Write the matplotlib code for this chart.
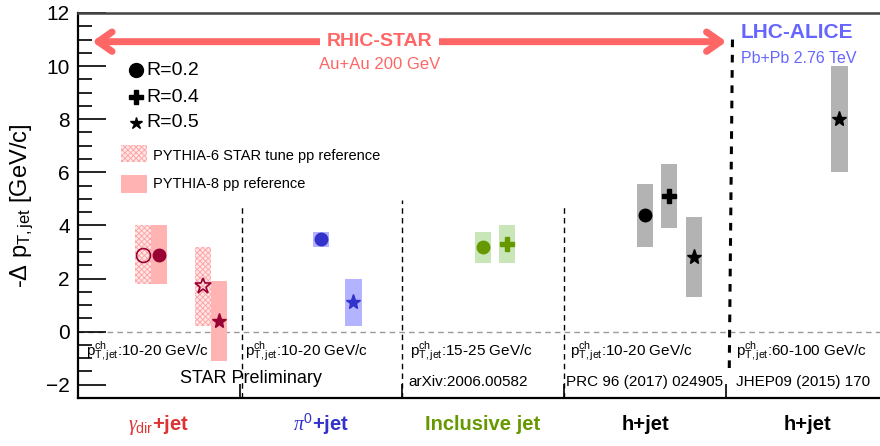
import numpy as np
import matplotlib
matplotlib.use("Agg")
import matplotlib.pyplot as plt
from matplotlib.patches import Rectangle, FancyArrowPatch

plt.rcParams['font.family'] = ['Liberation Sans', 'DejaVu Sans']
plt.rcParams['mathtext.fontset'] = 'custom'
plt.rcParams['mathtext.rm'] = 'Liberation Sans'
plt.rcParams['mathtext.it'] = 'Liberation Serif:italic'
plt.rcParams['mathtext.bf'] = 'Liberation Sans:bold'
plt.rcParams['hatch.linewidth'] = 0.6

# gamma_dir + jet (STAR preliminary), PYTHIA-6 reference (open) and PYTHIA-8 (filled)
g6_x = [0.40, 0.77]
g6_y = [2.9, 1.7]
g6_lo = [1.8, 0.2]
g6_hi = [4.0, 3.2]
g8_x = [0.50, 0.87]
g8_y = [2.9, 0.4]
g8_lo = [1.8, -1.1]
g8_hi = [4.0, 1.9]
g_markers = ['o', '*']

# pi0 + jet
pi_x = [1.50, 1.70]
pi_y = [3.5, 1.1]
pi_lo = [3.2, 0.2]
pi_hi = [3.75, 2.0]
pi_markers = ['o', '*']

# inclusive jet
inc_x = [2.50, 2.65]
inc_y = [3.2, 3.3]
inc_lo = [2.6, 2.6]
inc_hi = [3.75, 4.0]
inc_markers = ['o', 'P']

# h + jet STAR
h_x = [3.50, 3.65, 3.80]
h_y = [4.4, 5.1, 2.8]
h_lo = [3.2, 3.9, 1.3]
h_hi = [5.55, 6.3, 4.3]
h_markers = ['o', 'P', '*']

# h + jet ALICE
a_x = [4.70]
a_y = [8.0]
a_lo = [6.0]
a_hi = [10.0]
a_markers = ['*']

box_w = 0.10

fig = plt.figure(figsize=(8.8, 4.46), dpi=100)
ax = fig.add_axes([78/880, 1-398/446, 810/880, 385/446])
ax.set_xlim(0, 5)
ax.set_ylim(-2.5, 12)


def draw(xs, ys, lo, hi, mk, box_col, mk_col, hatch=None, open_mk=False):
    for x, y, l, h, m in zip(xs, ys, lo, hi, mk):
        if hatch:
            r = Rectangle((x - box_w/2, l), box_w, h - l, facecolor='#ffe6e6',
                          edgecolor='#ff9f9f', hatch=hatch, lw=0, zorder=2)
        else:
            r = Rectangle((x - box_w/2, l), box_w, h - l, facecolor=box_col,
                          edgecolor='none', zorder=2)
        ax.add_patch(r)
        ms = 9 if m == 'o' else (11 if m == '*' else 10)
        if open_mk:
            ax.plot(x, y, marker=m, ms=ms + 1, mfc='none', mec=mk_col, mew=1.2, zorder=3)
        else:
            ax.plot(x, y, marker=m, ms=ms, color=mk_col, mec=mk_col, zorder=3)


draw(g6_x, g6_y, g6_lo, g6_hi, g_markers, None, '#990033', hatch='xxxxxx', open_mk=True)
draw(g8_x, g8_y, g8_lo, g8_hi, g_markers, '#ffb3b3', '#990033')
draw(pi_x, pi_y, pi_lo, pi_hi, pi_markers, '#b3b3ff', '#3333cc')
draw(inc_x, inc_y, inc_lo, inc_hi, inc_markers, '#c8e6b8', '#669900')
draw(h_x, h_y, h_lo, h_hi, h_markers, '#b3b3b3', 'black')
draw(a_x, a_y, a_lo, a_hi, a_markers, '#b3b3b3', 'black')

# reference lines
ax.axhline(0, color='#999999', ls=(0, (4, 3)), lw=1, zorder=1)
for xv, ytop in [(1.01, 4.8), (2.0, 4.95), (3.0, 4.8)]:
    ax.plot([xv, xv], [-2.5, ytop], color='black', ls=(0, (4, 3)), lw=1, zorder=1)
ax.plot([4.04, 4.02], [11.0, -1.5], color='black', ls=(0, (2.5, 2.5)), lw=2.2, zorder=1)

# arrow
arr = FancyArrowPatch((0.07, 10.92), (4.02, 10.92), arrowstyle='<->,head_length=10,head_width=7',
                      color='#ff6666', lw=5, mutation_scale=1, zorder=4)
ax.add_patch(arr)
ax.text(1.86, 10.92, 'RHIC-STAR', color='#ff6666', fontsize=14, fontweight='bold',
        ha='center', va='center', zorder=5,
        bbox=dict(facecolor='white', edgecolor='none', pad=5))
ax.text(1.86, 10.05, 'Au+Au 200 GeV', color='#ff6666', fontsize=12, ha='center', va='center')
ax.text(4.09, 11.25, 'LHC-ALICE', color='#6666ff', fontsize=15, fontweight='bold',
        ha='left', va='center')
ax.text(4.09, 10.28, 'Pb+Pb 2.76 TeV', color='#6666ff', fontsize=11.5, ha='left', va='center')

# marker legend
leg_y = [9.85, 8.83, 7.86]
leg_lab = ['R=0.2', 'R=0.4', 'R=0.5']
leg_mk = ['o', 'P', '*']
for yy, lab, m in zip(leg_y, leg_lab, leg_mk):
    ax.plot(0.36, yy, marker=m, ms=10 if m != '*' else 9, color='black')
    ax.text(0.42, yy, lab, fontsize=14, va='center', ha='left')

# pythia legend
ax.add_patch(Rectangle((0.265, 6.39), 0.16, 0.64, facecolor='#ffe6e6', edgecolor='#ff9f9f',
                       hatch='xxxxxx', lw=0))
ax.add_patch(Rectangle((0.265, 5.23), 0.16, 0.67, facecolor='#ffb3b3', edgecolor='none'))
ax.text(0.46, 6.62, 'PYTHIA-6 STAR tune pp reference', fontsize=10.5, va='center')
ax.text(0.46, 5.55, 'PYTHIA-8 pp reference', fontsize=10.5, va='center')

# kinematic notes
pt_x = [0.05, 1.03, 2.05, 3.04, 4.06]
pt_lab = ['10-20', '10-20', '15-25', '10-20', '60-100']
for xx, lab in zip(pt_x, pt_lab):
    ax.text(xx, -0.9, r'p$^{\rm ch}_{\rm T,jet}$:' + lab + ' GeV/c', fontsize=11, va='baseline')
ax.text(0.63, -1.95, 'STAR Preliminary', fontsize=13, va='baseline')
ref_x = [2.04, 3.01, 4.06]
ref_lab = ['arXiv:2006.00582', 'PRC 96 (2017) 024905', 'JHEP09 (2015) 170']
for xx, lab in zip(ref_x, ref_lab):
    ax.text(xx, -2.05, lab, fontsize=11, va='baseline')

# categories
cat_x = [0.5, 1.5, 2.5, 3.5, 4.5]
cat_lab = [r'$\gamma_{\rm dir}$+jet', r'$\pi^{0}$+jet', 'Inclusive jet', 'h+jet', 'h+jet']
cat_col = ['#dd3333', '#3333cc', '#669900', 'black', 'black']
for xx, lab, c in zip(cat_x, cat_lab, cat_col):
    ax.text(xx, -3.5, lab, fontsize=14.5, fontweight='bold', color=c, ha='center', va='center')

# axes styling
ax.set_xticks([1, 2, 3, 4])
ax.set_xticklabels([])
ax.tick_params(axis='x', direction='in', length=10, width=1.2, top=False)
ax.set_yticks(np.arange(-2, 13, 2))
ax.set_yticks(np.arange(-2.5, 12.01, 0.5), minor=True)
ax.tick_params(axis='y', which='major', direction='in', length=20, width=1.2, labelsize=15, pad=6)
ax.tick_params(axis='y', which='minor', direction='in', length=10, width=1.2)
ax.set_yticklabels([str(v).replace('-', '\u2212') for v in range(-2, 13, 2)])
ax.spines['right'].set_visible(False)
ax.spines['left'].set_linewidth(1.6)
ax.spines['bottom'].set_linewidth(1.6)
ax.spines['top'].set_linewidth(1.8)
ax.spines['top'].set_color('#444444')
ax.set_ylabel(r'-$\Delta$ p$_{\rm T,jet}$ [GeV/c]', fontsize=17, labelpad=8)

fig.savefig('out.png', dpi=100)
